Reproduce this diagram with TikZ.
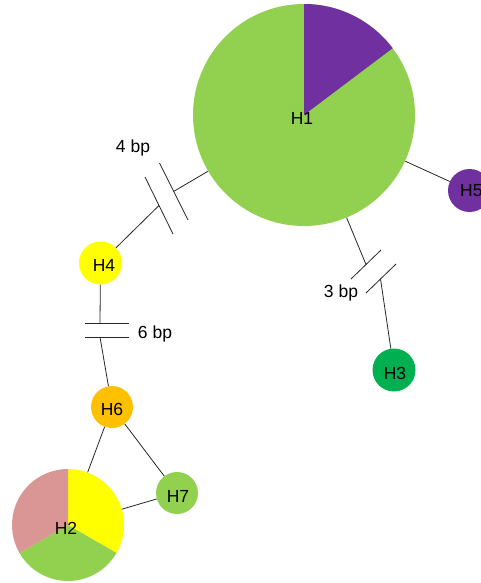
\documentclass[tikz,border=0pt]{standalone}
\usepackage{fontspec}
\setmainfont{Liberation Sans}
\definecolor{leaf}{HTML}{92D050}
\definecolor{plum}{HTML}{7030A0}
\definecolor{lemon}{HTML}{FFFF00}
\definecolor{amber}{HTML}{FFC000}
\definecolor{emerald}{HTML}{00B050}
\definecolor{rose}{HTML}{DA9694}
\tikzset{
  hap/.style={circle, inner sep=0pt, draw=none, minimum size=#1},
  hlabel/.style={font=\fontsize{17.5}{20}\selectfont, inner sep=0pt, text=black},
  link/.style={draw=black!85, line width=0.8pt},
  tick/.style={draw=black!85, line width=0.8pt},
}
\begin{document}
\begin{tikzpicture}[x=1pt, y=-1pt]
\useasboundingbox (0,0) rectangle (480,583);

% haplotype circles
\node[hap=222pt, fill=leaf] (h1) at (304,115) {};
\fill[plum] (h1.center) -- ++(90:111pt) arc[start angle=90, end angle=37, radius=111pt] -- cycle;
\node[hap=112pt] (h2) at (68,525) {};
\fill[lemon] (h2.center) -- ++(90:56pt) arc[start angle=90, end angle=-30, radius=56pt] -- cycle;
\fill[leaf] (h2.center) -- ++(-30:56pt) arc[start angle=-30, end angle=-150, radius=56pt] -- cycle;
\fill[rose] (h2.center) -- ++(-150:56pt) arc[start angle=-150, end angle=-270, radius=56pt] -- cycle;
\node[hap=43pt, fill=emerald] (h3) at (394,370) {};
\node[hap=43pt, fill=lemon] (h4) at (100.5,263) {};
\node[hap=43pt, fill=plum] (h5) at (469.5,190.5) {};
\node[hap=42pt, fill=amber] (h6) at (112,407) {};
\node[hap=42pt, fill=leaf] (h7) at (177,493) {};

% mutation-step breaks
\coordinate (b4a) at (159,205.5);
\coordinate (b4b) at (173.5,191.5);
\coordinate (b3a) at (366,264.5);
\coordinate (b3b) at (380.5,279);
\coordinate (b6a) at (100,323);
\coordinate (b6b) at (100,337);

% connectors
\draw[link] (h4) -- (b4a);
\draw[link] (b4b) -- (h1);
\draw[link] (h1) -- (b3a);
\draw[link] (b3b) -- (h3);
\draw[link] (h1) -- (h5);
\draw[link] (h4) -- (b6a);
\draw[link] (b6b) -- (h6);
\draw[link] (h6) -- (h2);
\draw[link] (h6) -- (h7);
\draw[link] (h2) -- (h7);

% break ticks
\draw[tick] (145,177) -- (173,234);
\draw[tick] (159.5,163) -- (188,220);
\draw[tick] (351,279) -- (381,250);
\draw[tick] (366,293) -- (396,264);
\draw[tick] (85,323) -- (129,323);
\draw[tick] (85,337) -- (129,337);

% labels
\node[hlabel] (t1) at (302,118) {H1};
\node[hlabel] (t2) at (66,528) {H2};
\node[hlabel] (t3) at (395,373) {H3};
\node[hlabel] (t4) at (104,265) {H4};
\node[hlabel, anchor=west] (t5) at (460,191) {H5};
\node[hlabel] (t6) at (112,409) {H6};
\node[hlabel] (t7) at (178,496) {H7};
\node[hlabel] (s4) at (133,148) {4 bp};
\node[hlabel] (s3) at (341,293) {3 bp};
\node[hlabel] (s6) at (155,334) {6 bp};
\end{tikzpicture}
\end{document}
